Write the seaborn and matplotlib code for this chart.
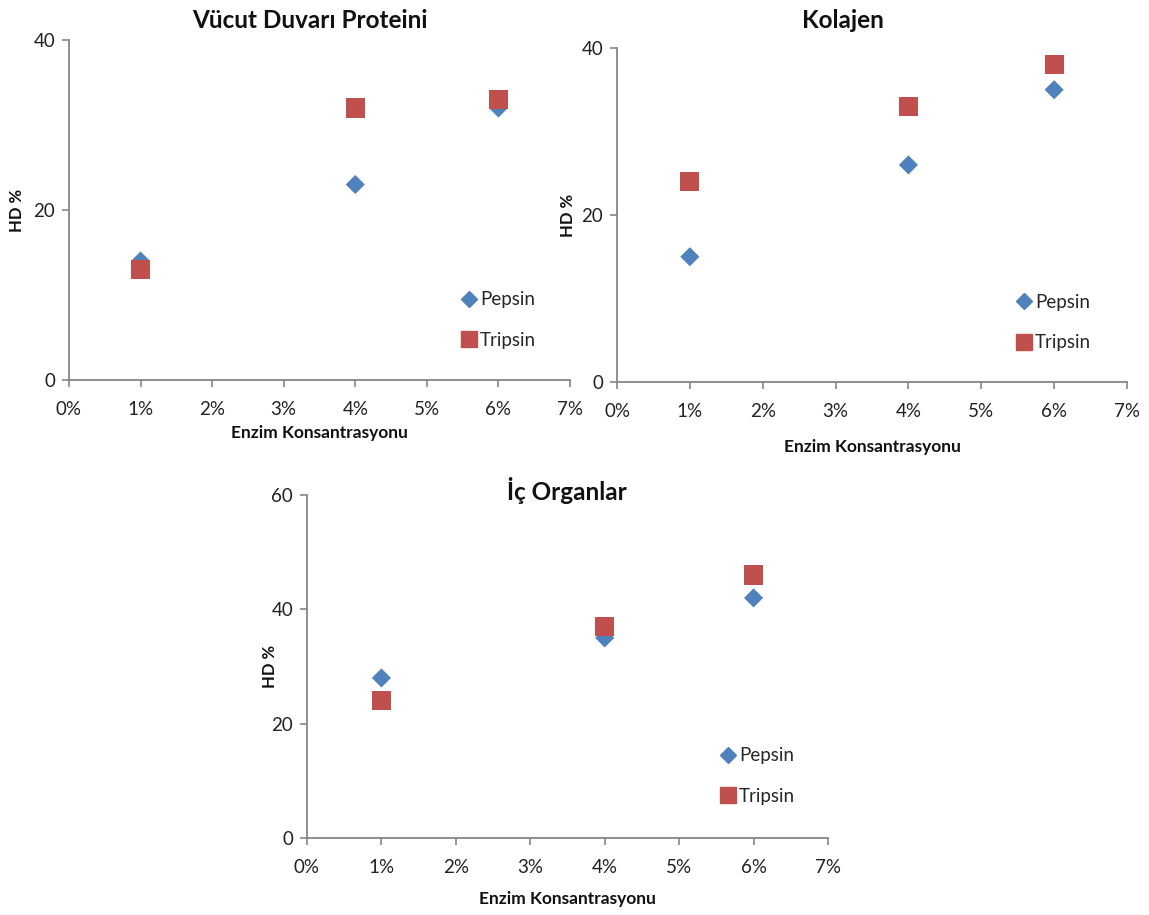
import matplotlib
matplotlib.use("Agg")
import matplotlib.pyplot as plt
import seaborn as sns
import pandas as pd
from matplotlib.lines import Line2D
from matplotlib.ticker import FuncFormatter, MultipleLocator

sns.set_theme(style="white")
plt.rcParams["font.family"] = ["Lato", "DejaVu Sans"]

# Enzyme concentrations (%)
concentrations = [1, 4, 6]

# Hydrolysis degree (HD %) per tissue and enzyme
body_wall_pepsin = [14, 23, 32]
body_wall_tripsin = [13, 32, 33]
collagen_pepsin = [15, 26, 35]
collagen_tripsin = [24, 33, 38]
organs_pepsin = [28, 35, 42]
organs_tripsin = [24, 37, 46]

titles = ["Vücut Duvarı Proteini", "Kolajen", "İç Organlar"]
x_label = "Enzim Konsantrasyonu"
y_label = "HD %"
x_ticks = [0, 1, 2, 3, 4, 5, 6, 7]

BLUE = "#4F81BD"
RED = "#C0504D"
AXIS_GREY = "#868686"
TEXT = "#222222"

W, H = 1149, 915
fig = plt.figure(figsize=(W / 100, H / 100), dpi=100)


def px_axes(x0, x1, y_top, y_bottom):
    return fig.add_axes([x0 / W, 1 - y_bottom / H, (x1 - x0) / W, (y_bottom - y_top) / H])


panels = [
    dict(box=(69, 570, 40, 380), pep=body_wall_pepsin, tri=body_wall_tripsin,
         ymax=40, title_xy=(310, 20), ylab_x=17, xlab_y=433, leg=(469, 299, 341)),
    dict(box=(617, 1127, 48, 382), pep=collagen_pepsin, tri=collagen_tripsin,
         ymax=40, title_xy=(843, 20), ylab_x=568, xlab_y=447, leg=(1024, 301, 344)),
    dict(box=(307, 828, 495, 838), pep=organs_pepsin, tri=organs_tripsin,
         ymax=60, title_xy=(567, 490), ylab_x=270, xlab_y=899, leg=(728, 755, 797)),
]

for p, title in zip(panels, titles):
    x0, x1, yt, yb = p["box"]
    ax = px_axes(x0, x1, yt, yb)
    df = pd.DataFrame({
        "Konsantrasyon": concentrations * 2,
        "HD": p["pep"] + p["tri"],
        "Enzim": ["Pepsin"] * 3 + ["Tripsin"] * 3,
    })
    sns.scatterplot(data=df[df.Enzim == "Pepsin"], x="Konsantrasyon", y="HD",
                    marker="D", s=95, color=BLUE, edgecolor="none", ax=ax, zorder=3)
    sns.scatterplot(data=df[df.Enzim == "Tripsin"], x="Konsantrasyon", y="HD",
                    marker="s", s=190, color=RED, edgecolor="none", ax=ax, zorder=4)

    ax.set_xlim(0, 7)
    ax.set_ylim(0, p["ymax"])
    ax.set_xticks(x_ticks)
    ax.xaxis.set_major_formatter(FuncFormatter(lambda v, _: f"{int(v)}%"))
    ax.yaxis.set_major_locator(MultipleLocator(20))
    ax.set_xlabel("")
    ax.set_ylabel("")
    for side in ("top", "right"):
        ax.spines[side].set_visible(False)
    for side in ("left", "bottom"):
        ax.spines[side].set_color(AXIS_GREY)
        ax.spines[side].set_linewidth(1.3)
    ax.tick_params(axis="both", which="major", direction="out", length=5, width=1.2,
                   color=AXIS_GREY, labelsize=13.5, labelcolor=TEXT,
                   bottom=True, left=True)
    ax.tick_params(axis="x", pad=10)
    ax.tick_params(axis="y", pad=5)
    ax.grid(False)
    ax.set_facecolor("none")

    # titles and axis labels in figure pixel positions
    tx, ty = p["title_xy"]
    fig.text(tx / W, 1 - ty / H, title, ha="center", va="center",
             fontsize=17.5, fontweight="bold", color="#111111")
    fig.text(p["ylab_x"] / W, 1 - ((yt + yb) / 2) / H, y_label, rotation=90,
             ha="center", va="center", fontsize=12, fontweight="bold", color="#111111")
    fig.text(((x0 + x1) / 2) / W, 1 - p["xlab_y"] / H, x_label, ha="center", va="center",
             fontsize=12.5, fontweight="bold", color="#111111")

    # legend entries
    lx, ly1, ly2 = p["leg"]
    handles = [
        Line2D([], [], marker="D", linestyle="none", color=BLUE, markersize=8.5),
        Line2D([], [], marker="s", linestyle="none", color=RED, markersize=11),
    ]
    ax.legend(handles, ["Pepsin", "Tripsin"], frameon=False, fontsize=13.5,
              loc="center left", handletextpad=0.1, handlelength=1.0,
              labelspacing=1.25, borderaxespad=0,
              bbox_to_anchor=((lx - 17 - x0) / (x1 - x0),
                              (yb - (ly1 + ly2) / 2) / (yb - yt)))

fig.savefig("out.png", dpi=100, facecolor="white")
